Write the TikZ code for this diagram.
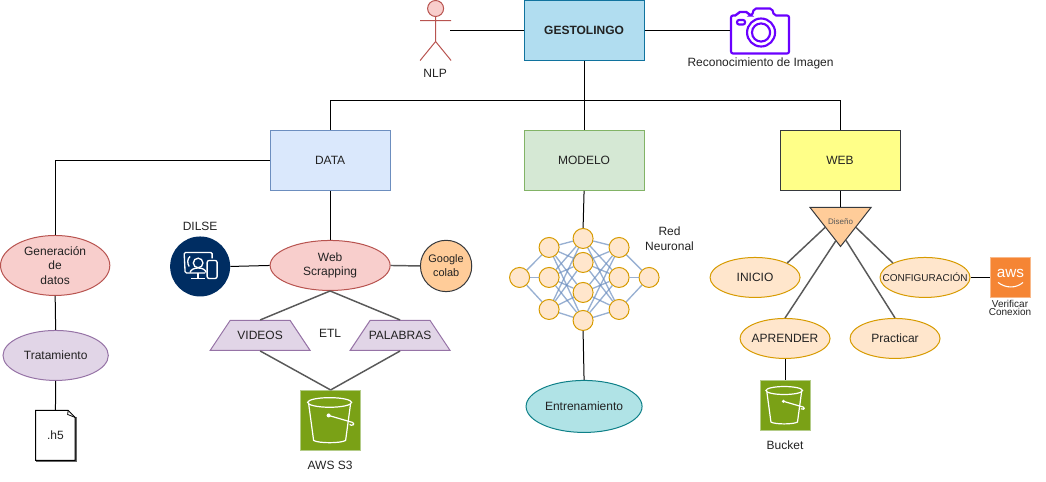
\documentclass[tikz,border=0pt]{standalone}
\usepackage{fontspec}
\setmainfont{Liberation Sans}
\usetikzlibrary{shapes.geometric,positioning}
\definecolor{blueFill}{HTML}{B1DDF0}
\definecolor{blueLine}{HTML}{10739E}
\definecolor{dataFill}{HTML}{DAE8FC}
\definecolor{dataLine}{HTML}{6C8EBF}
\definecolor{greenFill}{HTML}{D5E8D4}
\definecolor{greenLine}{HTML}{82B366}
\definecolor{yellowFill}{HTML}{FFFF88}
\definecolor{darkLine}{HTML}{36393D}
\definecolor{redFill}{HTML}{F8CECC}
\definecolor{redLine}{HTML}{B85450}
\definecolor{purpleFill}{HTML}{E1D5E7}
\definecolor{purpleLine}{HTML}{9673A6}
\definecolor{orangeFill}{HTML}{FFE6CC}
\definecolor{orangeLine}{HTML}{D79B00}
\definecolor{peachFill}{HTML}{FFCC99}
\definecolor{tealFill}{HTML}{B0E3E6}
\definecolor{tealLine}{HTML}{0E8088}
\definecolor{navyFill}{HTML}{002D62}
\definecolor{s3Fill}{HTML}{7AA116}
\definecolor{s3Line}{HTML}{B4CC88}
\definecolor{awsFill}{HTML}{F58534}
\definecolor{awsLine}{HTML}{F9B98A}
\definecolor{camLine}{HTML}{6A00FF}
\definecolor{textGray}{HTML}{222222}

\begin{document}
\begin{tikzpicture}
      [x=.75pt, y=-.75pt,
      every node/.style={font=\fontsize{9}{11}\selectfont, text=textGray, align=center, inner sep=0pt},
      link/.style={draw, line width=.75pt},
      gray link/.style={draw=black!65, line width=1.1pt},
      box style/.style={draw, rectangle, minimum width=90pt, minimum height=45pt, line width=.75pt},
      oval style/.style={draw, ellipse, line width=.75pt},
      screen oval/.style={oval style, fill=orangeFill, draw=orangeLine, minimum width=67.5pt, minimum height=30pt},
      neuron/.style={draw=orangeLine, fill=orangeFill, circle, minimum size=15pt, line width=.75pt},
      etl box/.style={draw=purpleLine, fill=purpleFill, trapezium, trapezium left angle=56.3, trapezium right angle=56.3, text width=45pt, text height=14.5pt, text depth=8pt, line width=.75pt},
      bucket box/.style={rectangle, fill=s3Fill, draw=s3Line, line width=.75pt},
      bucket icon/.pic={
        \draw[white, line width=.9pt, line join=round] (-22,-17) -- (-17,20) .. controls (-12,23) and (10,23) .. (15,20) -- (20,-17);
        \draw[white, line width=.9pt] (-1,-18) ellipse [x radius=16.5pt, y radius=3.6pt];
        \draw[white, line width=.9pt] (-2,-5) -- (22,2) .. controls (25,4) and (21,6) .. (19,4);
        \fill[white] (-2,-5) circle (1.5pt);
      },
      ]

      \node[box style, fill=blueFill, draw=blueLine] (gestolingo) at (584,30) {\textbf{GESTOLINGO}};
      \node[box style, fill=dataFill, draw=dataLine] (data) at (330,160) {DATA};
      \node[box style, fill=greenFill, draw=greenLine] (modelo) at (584,160) {MODELO};
      \node[box style, fill=yellowFill, draw=darkLine] (web) at (840,160) {WEB};
      \coordinate (bus) at (584,100);

      \node[draw=redLine, fill=redFill, circle, minimum size=12pt, line width=.75pt] (nlphead) at (435.5,8) {};
      \coordinate (nlpbody) at (435.5,41);
      \coordinate (nlparm) at (450,30);
      \node (nlplabel) at (435,73) {NLP};
      \draw[draw=redLine, line width=.75pt] (nlphead.south) -- (nlpbody) -- (420,60) (nlpbody) -- (451,60) (420,20) -- (451,20);

      \node[minimum width=44pt, minimum height=34pt] (camera) at (760,30) {};
      \node (cameralabel) at (760.5,62.5) {Reconocimiento de Imagen};
      \draw[camLine, line width=1.6pt, rounded corners=1.5pt] (731,15) -- (737,15) -- (738,11.5) -- (748,11.5) -- (749,15) -- (752,15) -- (754,8) -- (772,8) -- (774,15) -- (789,15) -- (789,53) -- (731,53) -- cycle;
      \draw[camLine, line width=1.6pt, rounded corners=1.5pt] (737,19.5) rectangle (745,24);
      \draw[camLine, line width=1.6pt] (761,32) circle (10.5pt) (761,32) circle (6.8pt);

      \node[oval style, fill=redFill, draw=redLine, minimum width=82pt, minimum height=45pt] (gen) at (55,265) {Generación\\de\\datos};
      \node[oval style, fill=purpleFill, draw=purpleLine, minimum width=79pt, minimum height=37.5pt] (trat) at (55.5,355) {Tratamiento};
      \node[minimum width=29.5pt, minimum height=37.5pt] (doc) at (55.3,435) {.h5};
      \draw[black!60, line width=.9pt] (75.8,417) -- (75.8,460.8) -- (36,460.8);
      \draw[line width=.75pt] (35.5,410) -- (68,410) -- (75,417) -- (75,460) -- (35.5,460) -- cycle;
      \draw[line width=.6pt] (68,410) -- (67.5,414) -- (75,417);

      \node[circle, fill=navyFill, minimum size=45pt] (dilse) at (200,266) {};
      \node (dilselabel) at (200,226) {DILSE};
      \draw[white, line width=1pt, rounded corners=1pt] (205,272.5) -- (185,272.5) -- (184,252) -- (212,252) -- (212,258);
      \draw[white, line width=1pt] (198,273) -- (198,278) (191,278) -- (205,278);
      \draw[white, line width=1pt] (198,262.5) circle (3.6pt);
      \draw[white, line width=1pt] (190,272) .. controls (191,266) and (205,266) .. (206,272);
      \draw[white, line width=1pt] (190,256) .. controls (187,258) and (187,263) .. (189,266);
      \draw[white, fill=navyFill, line width=1pt, rounded corners=1.5pt] (207,260) rectangle (217,278);

      \node[oval style, fill=redFill, draw=redLine, minimum width=90pt, minimum height=37.5pt] (scrap) at (330,265) {Web\\Scrapping};
      \node[circle, draw=darkLine, fill=peachFill, minimum size=38.5pt, line width=.75pt, font=\fontsize{8.2}{10.5}\selectfont] (colab) at (446,265.5) {Google\\colab};
      \node[etl box] (videos) at (260,335) {\makebox[45pt]{VIDEOS}};
      \node[etl box] (palabras) at (400,335) {\makebox[45pt]{PALABRAS}};
      \node (etl) at (330,333) {ETL};
      \node[bucket box, minimum size=45pt] (s3) at (330.5,420) {};
      \pic at (330.5,420) {bucket icon};
      \node (s3label) at (330,465) {AWS S3};

      \foreach \name/\px/\py in {a1/519.5/277,
                                 b1/549/247, b2/549/277, b3/549/309,
                                 c1/583/238, c2/583/262, c3/583/292, c4/583/320,
                                 d1/619/247, d2/619/277, d3/619/309,
                                 e1/649/277}
        \node[neuron] (\name) at (\px,\py) {};
      \foreach \from/\to in {a1/b1, a1/b2, a1/b3, d1/e1, d2/e1, d3/e1}
        \draw[dataLine, opacity=.7, line width=1pt] (\from) -- (\to);
      \foreach \from in {b1,b2,b3}
        \foreach \to in {c1,c2,c3,c4}
          \draw[dataLine, opacity=.7, line width=1pt] (\from) -- (\to);
      \foreach \from in {c1,c2,c3,c4}
        \foreach \to in {d1,d2,d3}
          \draw[dataLine, opacity=.7, line width=1pt] (\from) -- (\to);
      \node (redlabel) at (669.5,238.5) {Red\\Neuronal};
      \node[oval style, fill=tealFill, draw=tealLine, minimum width=87pt, minimum height=39pt] (train) at (584,406) {Entrenamiento};

      \coordinate (tritl) at (810,207);
      \coordinate (tritr) at (871,207);
      \coordinate (trib) at (840.5,246);
      \coordinate (dis1) at (825,227);
      \coordinate (dis2) at (836,240);
      \coordinate (dis3) at (846,240);
      \coordinate (dis4) at (856,227);
      \fill[peachFill, draw=darkLine, line width=.75pt] (tritl) -- (tritr) -- (trib) -- cycle;
      \node[font=\fontsize{6}{7}\selectfont, text=black!65] (diseno) at (840.5,221) {Diseño};

      \node[screen oval] (inicio) at (755,277) {INICIO};
      \node[screen oval, font=\fontsize{7.5}{9}\selectfont] (config) at (925,277) {\makebox[0pt]{CONFIGURACIÓN}};
      \node[screen oval] (aprender) at (785,338) {\makebox[0pt]{APRENDER}};
      \node[screen oval] (practicar) at (895,338) {Practicar};

      \node[rectangle, fill=awsFill, draw=awsLine, line width=.75pt, minimum size=30pt] (aws) at (1010.5,277) {};
      \node[font=\fontsize{11.5}{12}\selectfont, text=white] (awstext) at (1010.5,272.5) {aws};
      \draw[white, line width=.8pt] (998,282) .. controls (1006,288) and (1016,288) .. (1023,282);
      \node[font=\fontsize{7.5}{6}\selectfont] (awslabel) at (1010,307) {Verificar\\Conexion};

      \node[bucket box, minimum size=37.5pt] (bucket) at (785,405) {};
      \pic[scale=.83] at (785,405) {bucket icon};
      \node (bucketlabel) at (785,445) {Bucket};

      \draw[link] (nlparm) -- (gestolingo.west);
      \draw[link] (gestolingo.east) -- (camera.west);
      \draw[link] (gestolingo.south) -- (modelo.north);
      \draw[link] (data.north) |- (bus) -| (web.north);
      \draw[link] (data.west) -| (gen.north);
      \draw[link] (gen.south) -- (trat.north);
      \draw[link] (trat.south) -- (doc.north);
      \draw[link] (data.south) -- (scrap.north);
      \draw[link] (dilse.east) -- (scrap.west);
      \draw[gray link] (scrap.east) -- (colab.west);
      \draw[gray link] (scrap.south) -- (videos.north);
      \draw[gray link] (scrap.south) -- (palabras.north);
      \draw[gray link] (videos.south) -- (s3.north);
      \draw[gray link] (palabras.south) -- (s3.north);
      \draw[link] (modelo.south) -- (c1.north);
      \draw[link] (c4.south) -- (train.north);
      \draw[link] (web.south) -- (840,207);
      \draw[gray link] (dis1) -- (inicio.north east);
      \draw[gray link] (dis2) -- (aprender.north);
      \draw[gray link] (dis3) -- (practicar.north);
      \draw[gray link] (dis4) -- (config.north west);
      \draw[link] (config.east) -- (aws.west);
      \draw[link] (aprender.south) -- (bucket.north);

      \useasboundingbox (0,0) rectangle (1046,481);
    \end{tikzpicture}
\end{document}
